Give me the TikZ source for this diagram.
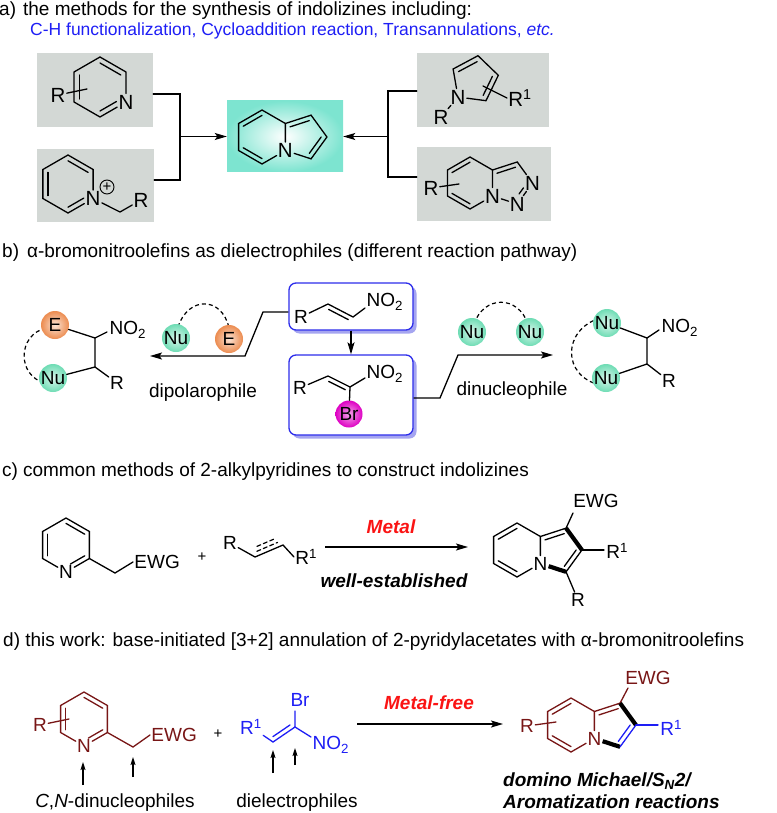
\documentclass[tikz,border=0pt]{standalone}
\usepackage{fontspec}
\setmainfont{Liberation Sans}
\usetikzlibrary{calc,arrows.meta,shadows}
\definecolor{boxgrey}{RGB}{211,216,213}
\definecolor{hiblue}{RGB}{30,30,245}
\definecolor{boxblue}{RGB}{45,45,235}
\definecolor{shadeblue}{RGB}{165,165,240}
\definecolor{pyrred}{RGB}{120,22,22}
\definecolor{hotred}{RGB}{250,20,20}
\definecolor{tealbg}{RGB}{125,228,208}
\definecolor{nugreen}{RGB}{110,220,180}
\definecolor{eorange}{RGB}{236,140,80}
\definecolor{brpink}{RGB}{222,0,195}
\tikzset{bond/.style={line width=1.3pt,line cap=round},
boldbond/.style={line width=4.2pt},
dashbond/.style={line width=1.2pt,dash pattern=on 4pt off 3pt},
atom/.style={inner sep=1.2pt},
greybox/.style={fill=boxgrey,inner sep=0pt},
bluebox/.style={draw=boxblue,line width=1.3pt,rounded corners=7pt,fill=white,inner sep=0pt,
  drop shadow={shadow xshift=3.5pt,shadow yshift=-3.5pt,fill=shadeblue,opacity=1}},
rxnarrow/.style={line width=1.3pt,-{Stealth[length=12pt,width=7pt,inset=2.5pt]}},
uparrow/.style={line width=1.2pt,-{Stealth[length=8pt,width=5pt,inset=1.5pt]}},
nuball/.style={circle,minimum size=28pt,inner sep=0pt,inner color=nugreen!25,outer color=nugreen},
eball/.style={circle,minimum size=28pt,inner sep=0pt,inner color=eorange!25,outer color=eorange},
brball/.style={circle,minimum size=27pt,inner sep=0pt,inner color=brpink!35,outer color=brpink},
charge/.style={circle,draw,line width=0.9pt,minimum size=14pt,inner sep=0pt,font=\fontsize{15}{15}\selectfont},
headline/.style={anchor=base west,inner sep=0pt}}
% ring corners: 1 top, 2 upper right, 3 lower right, 4 bottom, 5 lower left, 6 upper left
\newcommand{\hexring}[4]{%
\coordinate (#1-c) at (#2,#3);
\coordinate (#1-1) at (#2,#3-#4);
\coordinate (#1-2) at (#2+0.866*#4,#3-0.5*#4);
\coordinate (#1-3) at (#2+0.866*#4,#3+0.5*#4);
\coordinate (#1-4) at (#2,#3+#4);
\coordinate (#1-5) at (#2-0.866*#4,#3+0.5*#4);
\coordinate (#1-6) at (#2-0.866*#4,#3-0.5*#4);}
% five ring fused on the right edge of a hexagon
\newcommand{\pentring}[3]{%
\coordinate (#1-a) at ($(#2-2)+(0.951*#3,-0.309*#3)$);
\coordinate (#1-b) at ($(#2-2)!0.5!(#2-3)+(1.539*#3,0)$);
\coordinate (#1-d) at ($(#2-3)+(0.951*#3,0.309*#3)$);
\coordinate (#1-c) at ($(#2-2)!0.5!(#2-3)+(0.688*#3,0)$);}
\newcommand{\inbond}[4][]{\draw[bond,#1] ($(#2)!.2!(#4)$) -- ($(#3)!.2!(#4)$);}
\newcommand{\inpent}[4][]{\draw[bond,#1] ($(#2)!.25!(#4)$) -- ($(#3)!.25!(#4)$);}
\newcommand{\sidebond}[4][]{\draw[bond,shorten <=3pt,shorten >=3pt,#1] ($(#2)!#4!90:(#3)$) -- ($(#3)!#4!-90:(#2)$);}
\begin{document}
\begin{tikzpicture}[x=1pt,y=-1pt,font=\fontsize{19}{22}\selectfont]
\useasboundingbox (0,0) rectangle (776,813);

%% a) routes to indolizines
\node[headline] (heada) at (-1,16) {a)\hspace{7pt}the methods for the synthesis of indolizines including:};
\node[headline,text=hiblue,font=\fontsize{17.5}{20}\selectfont] (heada2) at (30,36) {C-H functionalization, Cycloaddition reaction, Transannulations, \textit{etc.}};
\node[greybox,minimum width=116pt,minimum height=74pt] (boxA) at (95,90) {};
\node[greybox,minimum width=117pt,minimum height=73pt] (boxB) at (95.5,185.5) {};
\node[greybox,minimum width=132pt,minimum height=74pt] (boxC) at (483,90) {};
\node[greybox,minimum width=134pt,minimum height=74pt] (boxD) at (484,184) {};
\node[minimum width=116pt,minimum height=71pt,inner sep=0pt,inner color=white,outer color=tealbg] (indbox) at (285,136.5) {};
\coordinate (jL) at (180,136.5);
\coordinate (jR) at (388,136.5);
\draw[bond] ([yshift=-4pt]boxA.east) -| (jL) |- ([yshift=5.5pt]boxB.east);
\draw[bond] ([yshift=-1pt]boxC.west) -| (jR) |- ([yshift=7pt]boxD.west);
\draw[rxnarrow] (jL) -- (indbox.west);
\draw[rxnarrow] (jR) -- (indbox.east);
\begin{scope}[font=\fontsize{20.5}{24}\selectfont]
% pyridine
\hexring{pa}{100}{87}{30}
\node[atom] (pa-N) at (pa-3) {N};
\draw[bond] (pa-N) -- (pa-4) -- (pa-5) -- (pa-6) -- (pa-1) -- (pa-2) -- (pa-N);
\inbond{pa-1}{pa-2}{pa-c}
\inbond[shorten <=5pt]{pa-N}{pa-4}{pa-c}
\inbond{pa-5}{pa-6}{pa-c}
\node[atom] (pa-R) at (58,95) {R};
\coordinate (pa-Rin) at (87,89);
\draw[bond] (pa-R) -- (pa-Rin);
% pyridinium
\hexring{pb}{68}{184}{29}
\node[atom] (pb-N) at (pb-3) {N};
\draw[bond] (pb-N) -- (pb-4) -- (pb-5) -- (pb-6) -- (pb-1) -- (pb-2) -- (pb-N);
\inbond{pb-1}{pb-2}{pb-c}
\inbond[shorten <=5pt]{pb-N}{pb-4}{pb-c}
\inbond{pb-5}{pb-6}{pb-c}
\node[charge] (pb-plus) at (107,187) {+};
\coordinate (pb-ch) at (120,212);
\node[atom] (pb-R) at (141,200) {R};
\draw[bond] (pb-N) -- (pb-ch) -- (pb-R);
% indolizine
\hexring{ia}{262}{137}{27}
\pentring{ip}{ia}{27}
\node[atom] (ia-N) at (ia-3) {N};
\draw[bond] (ia-N) -- (ia-2) -- (ia-1) -- (ia-6) -- (ia-5) -- (ia-4) -- (ia-N);
\draw[bond] (ia-2) -- (ip-a) -- (ip-b) -- (ip-d) -- (ia-N);
\inbond{ia-6}{ia-1}{ia-c}
\inbond{ia-5}{ia-4}{ia-c}
\inpent{ia-2}{ip-a}{ip-c}
\inpent{ip-b}{ip-d}{ip-c}
% pyrrole
\coordinate (pr-c) at (474.7,79.5);
\coordinate (pr-t) at (478,55.7);
\coordinate (pr-r) at (498.3,75.3);
\coordinate (pr-br) at (486,100.7);
\coordinate (pr-tl) at (453.1,69);
\node[atom] (pr-N) at (458,97) {N};
\draw[bond] (pr-N) -- (pr-tl) -- (pr-t) -- (pr-r) -- (pr-br) -- (pr-N);
\inpent{pr-tl}{pr-t}{pr-c}
\inpent{pr-r}{pr-br}{pr-c}
\node[atom] (pr-R) at (441,117) {R};
\draw[bond] (pr-N) -- (pr-R);
\node[atom,anchor=west] (pr-R1) at (507,98) {R\textsuperscript{1}};
\coordinate (pr-in) at (483,86);
\draw[bond] (pr-in) -- (pr-R1.west);
% triazolopyridine
\hexring{tz}{470}{183}{26}
\pentring{tp}{tz}{26}
\node[atom] (tz-N) at (tz-3) {N};
\node[atom] (tp-N2) at (tp-d) {N};
\node[atom] (tp-N3) at (tp-b) {N};
\draw[bond] (tz-N) -- (tz-2) -- (tz-1) -- (tz-6) -- (tz-5) -- (tz-4) -- (tz-N);
\draw[bond] (tz-2) -- (tp-a) -- (tp-N3) -- (tp-N2) -- (tz-N);
\inbond{tz-6}{tz-1}{tz-c}
\inbond{tz-5}{tz-4}{tz-c}
\inpent{tz-2}{tp-a}{tp-c}
\inpent[shorten <=6pt,shorten >=6pt]{tp-N3}{tp-N2}{tp-c}
\node[atom] (tz-R) at (431,188) {R};
\coordinate (tz-Rin) at (459,184);
\draw[bond] (tz-R) -- (tz-Rin);
\end{scope}

%% b) bromonitroolefins
\node[headline] (headb) at (2,257) {b)\hspace{8pt}α-bromonitroolefins as dielectrophiles (different reaction pathway)};
\node[bluebox,minimum width=124pt,minimum height=47pt] (topbox) at (351,306.5) {};
\node[bluebox,minimum width=124pt,minimum height=80pt] (botbox) at (351,395) {};
\draw[rxnarrow] (topbox.south) -- (botbox.north);
% nitroolefin
\node[atom] (tb-R) at (301,317) {R};
\coordinate (tb-1) at (328,304);
\coordinate (tb-2) at (353,317);
\coordinate (tb-3) at (365,308);
\node[anchor=west,inner sep=0.5pt] (tb-no) at (366,302) {NO\textsubscript{2}};
\draw[bond] (tb-R) -- (tb-1) -- (tb-2) -- (tb-3);
\sidebond{tb-2}{tb-1}{4.5pt}
% bromonitroolefin
\node[atom] (bb-R) at (300,388) {R};
\coordinate (bb-1) at (328,376);
\coordinate (bb-2) at (350,387);
\coordinate (bb-3) at (365,378);
\node[anchor=west,inner sep=0.5pt] (bb-no) at (366,374) {NO\textsubscript{2}};
\draw[bond] (bb-R) -- (bb-1) -- (bb-2) -- (bb-3);
\sidebond{bb-2}{bb-1}{4.5pt}
\node[brball] (bb-Br) at (349,414) {Br};
\draw[bond] (bb-2) -- (bb-Br);
% dipolarophile pathway
\coordinate (bl1) at (263,312);
\coordinate (bl2) at (245,356);
\coordinate (bl3) at (150,356);
\draw[rxnarrow] ([yshift=-5.5pt]topbox.west) -- (bl1) -- (bl2) -- (bl3);
\node[anchor=base] (dipo) at (203,397) {dipolarophile};
\draw[dashbond] (178,327) .. controls (188,296) and (222,296) .. (229,328);
\node[nuball] (nu1) at (176,338) {Nu};
\node[eball] (e1) at (229,339) {E};
\draw[dashbond] (46,328) .. controls (17,335) and (17,376) .. (45,383);
\node[eball] (pe) at (55,325) {E};
\node[nuball] (pn) at (53,378) {Nu};
\coordinate (pl-1) at (95,338);
\coordinate (pl-2) at (95,367);
\coordinate (pl-3) at (107,332);
\node[anchor=west,inner sep=0.5pt] (pl-no) at (109,330) {NO\textsubscript{2}};
\node[atom] (pl-R) at (117,383) {R};
\draw[bond] (pe) -- (pl-1) -- (pl-2) -- (pn);
\draw[bond] (pl-1) -- (pl-3);
\draw[bond] (pl-2) -- (pl-R);
% dinucleophile pathway
\coordinate (br1) at (440,398);
\coordinate (br2) at (458,355);
\coordinate (br3) at (553,355);
\draw[rxnarrow] ([yshift=-3pt]botbox.east) -- (br1) -- (br2) -- (br3);
\node[anchor=base] (dinu) at (512,395) {dinucleophile};
\draw[dashbond] (474,324) .. controls (484,295) and (518,295) .. (528,324);
\node[nuball] (nu2) at (472,332) {Nu};
\node[nuball] (nu3) at (530,332) {Nu};
\draw[dashbond] (600,318) .. controls (562,330) and (562,376) .. (600,385);
\node[nuball] (pn1) at (607,323) {Nu};
\node[nuball] (pn2) at (606,378) {Nu};
\coordinate (pr2-1) at (647,338);
\coordinate (pr2-2) at (647,364);
\coordinate (pr2-3) at (659,330);
\node[anchor=west,inner sep=0.5pt] (pr2-no) at (661,328) {NO\textsubscript{2}};
\node[atom] (pr2-R) at (669,381) {R};
\draw[bond] (pn1) -- (pr2-1) -- (pr2-2) -- (pn2);
\draw[bond] (pr2-1) -- (pr2-3);
\draw[bond] (pr2-2) -- (pr2-R);

%% c) 2-alkylpyridines
\node[headline] (headc) at (2,476) {c)\hspace{5pt}common methods of 2-alkylpyridines to construct indolizines};
\hexring{pc}{66}{545}{27}
\node[atom] (pc-N) at (pc-4) {N};
\draw[bond] (pc-N) -- (pc-3) -- (pc-2) -- (pc-1) -- (pc-6) -- (pc-5) -- (pc-N);
\inbond{pc-1}{pc-2}{pc-c}
\inbond[shorten >=5pt]{pc-3}{pc-N}{pc-c}
\inbond{pc-5}{pc-6}{pc-c}
\coordinate (pc-ch) at (115,573);
\node[atom,anchor=west] (pc-ewg) at (133,562) {EWG};
\draw[bond] (pc-3) -- (pc-ch) -- (pc-ewg.west);
\node[font=\fontsize{15}{18}\selectfont] (plus1) at (202,557) {+};
\node[atom] (al-R) at (230,543) {R};
\coordinate (al-a) at (255,557);
\coordinate (al-b) at (283,545);
\node[atom,anchor=west] (al-R1) at (294,557) {R\textsuperscript{1}};
\draw[bond] (al-R) -- (al-a) -- (al-b) -- (al-R1.west);
\sidebond[dashbond,shorten <=4pt,shorten >=4pt]{al-a}{al-b}{4.5pt}
\sidebond[dashbond,shorten <=6pt,shorten >=6pt]{al-a}{al-b}{9pt}
\coordinate (ca1) at (325,547);
\coordinate (ca2) at (468,547);
\draw[rxnarrow] (ca1) -- (ca2);
\node[anchor=base,text=hotred,font=\fontsize{19}{22}\selectfont\bfseries\itshape] (metal) at (391,533) {Metal};
\node[anchor=base,font=\fontsize{19}{22}\selectfont\bfseries\itshape] (wellest) at (394,587) {well-established};
% indolizine product
\hexring{ic}{517}{550}{27}
\pentring{icp}{ic}{27}
\node[atom] (ic-N) at (ic-3) {N};
\draw[bond] (ic-N) -- (ic-2) -- (ic-1) -- (ic-6) -- (ic-5) -- (ic-4) -- (ic-N);
\draw[bond] (ic-2) -- (icp-a);
\draw[bond] (icp-b) -- (icp-d);
\draw[boldbond] (icp-a) -- (icp-b);
\draw[boldbond] (ic-N) -- (icp-d);
\inbond{ic-6}{ic-1}{ic-c}
\inbond{ic-5}{ic-4}{ic-c}
\inpent{ic-2}{icp-a}{icp-c}
\inpent{icp-b}{icp-d}{icp-c}
\coordinate (ic-ewgb) at (573,513);
\node[atom] (ic-ewg) at (596,501) {EWG};
\draw[bond] (icp-a) -- (ic-ewgb);
\coordinate (ic-r1b) at (604,550);
\node[atom,anchor=west] (ic-R1) at (605,551) {R\textsuperscript{1}};
\draw[bond] (icp-b) -- (ic-r1b);
\node[atom] (ic-R) at (578,600) {R};
\draw[bond] (icp-d) -- (ic-R);

%% d) this work
\node[headline] (headd) at (3,646) {d) this work: base-initiated [3+2] annulation of 2-pyridylacetates with α-bromonitroolefins};
\begin{scope}[pyrred,text=pyrred]
\hexring{pd}{84}{719}{27}
\node[atom] (pd-N) at (pd-4) {N};
\draw[bond] (pd-N) -- (pd-3) -- (pd-2) -- (pd-1) -- (pd-6) -- (pd-5) -- (pd-N);
\inbond{pd-1}{pd-2}{pd-c}
\inbond[shorten >=5pt]{pd-3}{pd-N}{pd-c}
\inbond{pd-5}{pd-6}{pd-c}
\coordinate (pd-ch) at (133,747);
\node[atom,anchor=west] (pd-ewg) at (150,735) {EWG};
\draw[bond] (pd-3) -- (pd-ch) -- (pd-ewg.west);
\node[atom] (pd-R) at (40,725) {R};
\coordinate (pd-Rin) at (69,719);
\draw[bond] (pd-R) -- (pd-Rin);
\end{scope}
\coordinate (pd-a1) at (83,785);
\coordinate (pd-a2) at (133,777);
\draw[uparrow] (pd-a1) -- ++(0,-23);
\draw[uparrow] (pd-a2) -- ++(0,-20);
\node[anchor=base] (cn) at (115,807) {\textit{C},\textit{N}-dinucleophiles};
\node[font=\fontsize{15}{18}\selectfont] (plus2) at (218,734) {+};
% dielectrophile
\begin{scope}[hiblue,text=hiblue]
\node[atom] (de-R1) at (251,727) {R\textsuperscript{1}};
\coordinate (de-1) at (273,742);
\coordinate (de-2) at (295,727);
\coordinate (de-brb) at (295,711);
\coordinate (de-nob) at (311,737);
\node[atom] (de-Br) at (300,700) {Br};
\node[anchor=west,inner sep=0.5pt] (de-no) at (312,745) {NO\textsubscript{2}};
\draw[bond] (de-R1) -- (de-1) -- (de-2) -- (de-brb);
\draw[bond] (de-2) -- (de-nob);
\sidebond{de-1}{de-2}{4.5pt}
\end{scope}
\coordinate (de-a1) at (273,773);
\coordinate (de-a2) at (295,765);
\draw[uparrow] (de-a1) -- ++(0,-23);
\draw[uparrow] (de-a2) -- ++(0,-17);
\node[anchor=base] (diel) at (297,807) {dielectrophiles};
\coordinate (da1) at (357,724);
\coordinate (da2) at (503,724);
\draw[rxnarrow] (da1) -- (da2);
\node[anchor=base,text=hotred,font=\fontsize{19}{22}\selectfont\bfseries\itshape] (mfree) at (429,709) {Metal-free};
% indolizine of this work
\hexring{id}{571}{725}{27}
\pentring{idp}{id}{27}
\begin{scope}[pyrred,text=pyrred]
\node[atom] (id-N) at (id-3) {N};
\draw[bond] (id-N) -- (id-2) -- (id-1) -- (id-6) -- (id-5) -- (id-4) -- (id-N);
\draw[bond] (id-2) -- (idp-a);
\inbond{id-6}{id-1}{id-c}
\inbond{id-5}{id-4}{id-c}
\inpent{id-2}{idp-a}{idp-c}
\coordinate (id-ewgb) at (628,688);
\node[atom] (id-ewg) at (648,678) {EWG};
\draw[bond] (idp-a) -- (id-ewgb);
\node[atom] (id-R) at (527,726) {R};
\coordinate (id-Rin) at (556,722);
\draw[bond] (id-R) -- (id-Rin);
\end{scope}
\draw[boldbond] (idp-a) -- (idp-b);
\draw[boldbond] (id-N) -- (idp-d);
\begin{scope}[hiblue,text=hiblue]
\draw[bond] (idp-b) -- (idp-d);
\inpent{idp-b}{idp-d}{idp-c}
\coordinate (id-r1b) at (658,725);
\node[atom,anchor=west] (id-R1) at (659,728) {R\textsuperscript{1}};
\draw[bond] (idp-b) -- (id-r1b);
\end{scope}
\node[headline,font=\fontsize{19}{22}\selectfont\bfseries\itshape] (dom1) at (503,786) {domino Michael/S\textsubscript{N}2/};
\node[headline,font=\fontsize{19}{22}\selectfont\bfseries\itshape] (dom2) at (503,808.5) {Aromatization reactions};
\end{tikzpicture}
\end{document}
